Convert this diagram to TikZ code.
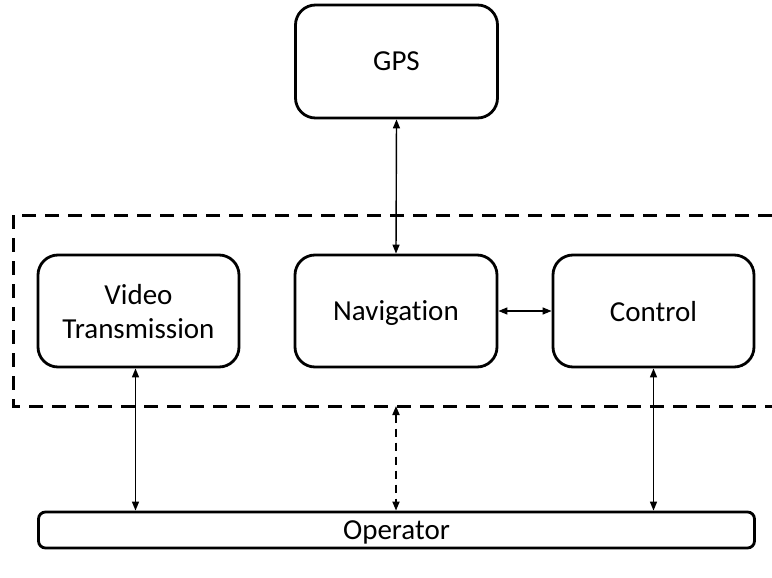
\documentclass[tikz,border=0pt]{standalone}
\usepackage{fontspec}
\setmainfont{Carlito}[Ligatures=NoCommon]
\usetikzlibrary{arrows.meta,calc,positioning}

\begin{document}
\begin{tikzpicture}[
        x=1pt, y=-1pt,
        >={Triangle[length=9pt,width=7pt]},
        block/.style = {draw, line width=2.8pt, rounded corners=20pt, align=center,
                        minimum width=201pt, minimum height=112pt, inner sep=0pt,
                        text depth=0pt, font=\fontsize{29}{34}\selectfont},
        bar/.style = {block, minimum width=716pt, minimum height=36pt, rounded corners=7pt},
        link/.style = {<->, line width=1.4pt},
        dlink/.style = {<->, line width=1.7pt, dash pattern=on 8pt off 6pt},
        group/.style = {line width=3pt, dash pattern=on 14pt off 9pt}]

    \useasboundingbox (0,0) rectangle (772,578);

    % subsystem frame (open on the right)
    \coordinate (gtr) at (772,215);
    \coordinate (gbr) at (772,406);
    \coordinate (gb)  at (396,406);
    \draw[group] (gtr) -| (13,406) -- (gbr);

    \node (gps) at (396.5,61.5) [block, minimum width=202pt, minimum height=113pt] {GPS};
    \node (video) at (138.5,311) [block] {Video\\Transmission};
    \node (nav) at (396,311) [block, minimum width=202pt] {Navigation};
    \node (ctrl) at (653.5,311) [block] {Control};
    \node (op) at (396.5,530) [bar] {Operator};

    \coordinate (vs) at ($(video.south)+(-3,0)$);

    \draw[link] (gps.south) -- (nav.north);
    \draw[link] (nav.east) -- (ctrl.west);
    \draw[link] (vs) -- (vs |- op.north);
    \draw[link] (ctrl.south) -- (ctrl.south |- op.north);
    \draw[dlink] (gb) -- (gb |- op.north);

\end{tikzpicture}
\end{document}
